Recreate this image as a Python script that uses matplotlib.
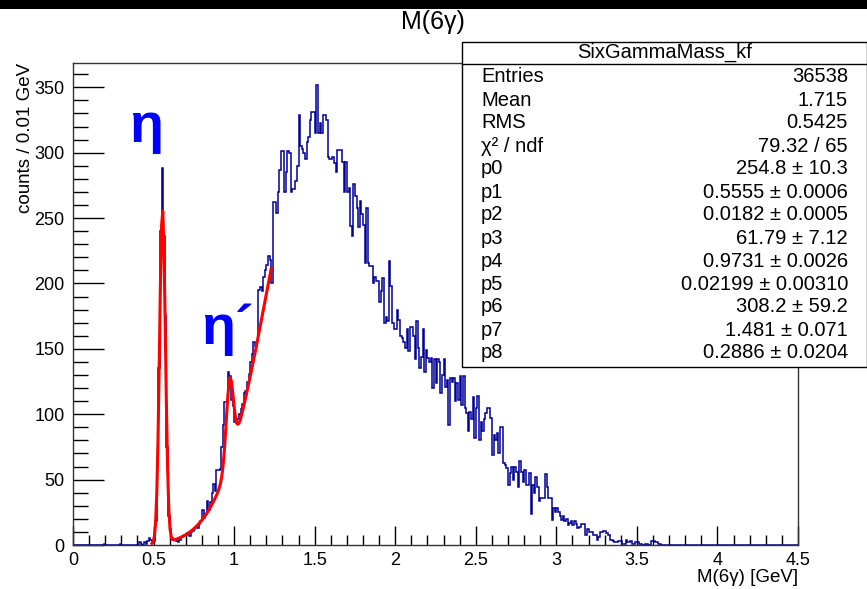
import numpy as np
import matplotlib
matplotlib.use("Agg")
import matplotlib.pyplot as plt
from matplotlib.patches import Rectangle
from matplotlib.lines import Line2D
from matplotlib.ticker import MultipleLocator

plt.rcParams['font.family'] = ['Liberation Sans', 'DejaVu Sans']

# histogram: bin width 0.01 GeV, contents, starting at 0.40 GeV
hist_start = 0.40
bin_width = 0.01
counts = [
    0, 2, 1, 0, 2, 1, 3, 5, 4, 3,                                # 0.40
    3, 18, 60, 135, 240, 288, 236, 176, 75, 22,                  # 0.50
    12, 5, 4, 4, 3, 2, 4, 6, 7, 8,                               # 0.60
    8, 9, 7, 10, 11, 12, 14, 13, 16, 18,                         # 0.70
    27, 21, 24, 34, 27, 33, 40, 47, 41, 57,                      # 0.80
    57, 58, 75, 92, 109, 109, 132, 129, 111, 106,                # 0.90
    94, 93, 96, 100, 104, 108, 116, 118, 125, 131,               # 1.00
    140, 146, 155, 152, 156, 195, 197, 194, 205, 210,            # 1.10
    214, 221, 218, 200, 262, 262, 254, 270, 287, 301,            # 1.20
    301, 270, 285, 301, 300, 270, 272, 272, 278, 290,            # 1.30
    329, 305, 303, 300, 295, 308, 312, 325, 331, 331,            # 1.40
    315, 352, 315, 323, 315, 329, 329, 325, 297, 295,            # 1.50
    295, 297, 292, 285, 302, 302, 302, 293, 270, 293,            # 1.60
    270, 273, 244, 236, 276, 267, 258, 243, 263, 253,            # 1.70
    245, 216, 258, 216, 213, 213, 200, 205, 202, 202,            # 1.80
    186, 194, 204, 170, 174, 171, 217, 198, 170, 165,            # 1.90
    165, 180, 172, 160, 158, 155, 151, 165, 148, 167,            # 2.00
    167, 160, 142, 171, 151, 135, 144, 165, 132, 149,            # 2.10
    143, 140, 143, 120, 142, 124, 142, 140, 116, 130,            # 2.20
    142, 121, 126, 92, 128, 125, 128, 110, 124, 111,             # 2.30
    129, 107, 129, 105, 101, 87, 102, 96, 113, 82,               # 2.40
    105, 114, 80, 94, 87, 96, 101, 105, 105, 97,                 # 2.50
    69, 84, 80, 86, 70, 90, 90, 63, 61, 59,                      # 2.60
    46, 55, 60, 50, 60, 56, 44, 64, 56, 48,                      # 2.70
    57, 46, 46, 55, 24, 46, 40, 52, 44, 34,                      # 2.80
    36, 36, 36, 54, 44, 36, 36, 19, 28, 25,                      # 2.90
    28, 25, 22, 19, 22, 18, 20, 15, 17, 18,                      # 3.00
    15, 18, 16, 13, 14, 16, 16, 16, 8, 12,                       # 3.10
    10, 10, 10, 8, 8, 4, 6, 10, 10, 11,                          # 3.20
    11, 9, 8, 4, 4, 3, 2, 2, 3, 3,                               # 3.30
    3, 1, 1, 4, 2, 2, 3, 1, 1, 2,                                # 3.40
    2, 1, 1, 0, 0, 1, 1, 0, 0, 3,                                # 3.50
    3, 2, 2, 1, 1,                                               # 3.60
]
stray_bins = {0.19: 1, 0.29: 1}

# fit: gaus(p0,p1,p2) + gaus(p3,p4,p5) + gaus(p6,p7,p8)
fit_par = [254.8, 0.5555, 0.0182, 61.79, 0.9731, 0.02199, 308.2, 1.481, 0.2886]
fit_range = (0.49, 1.23)

stats_title = "SixGammaMass_kf"
stats_names = ["Entries", "Mean", "RMS", "χ² / ndf", "p0", "p1", "p2", "p3",
               "p4", "p5", "p6", "p7", "p8"]
stats_values = ["36538", "1.715", "0.5425", "79.32 / 65",
                "254.8 ± 10.3", "0.5555 ± 0.0006", "0.0182 ± 0.0005",
                "61.79 ± 7.12", "0.9731 ± 0.0026", "0.02199 ± 0.00310",
                "308.2 ± 59.2", "1.481 ± 0.071", "0.2886 ± 0.0204"]

W, H = 867, 589
fig = plt.figure(figsize=(W / 100, H / 100), dpi=100)
ax = fig.add_axes([73 / W, 1 - 545 / H, (798 - 73) / W, (545 - 63) / H])

nbins = 450
full = np.zeros(nbins)
i0 = int(round(hist_start / bin_width))
full[i0:i0 + len(counts)] = counts
for x, c in stray_bins.items():
    full[int(round(x / bin_width))] = c
edges = np.linspace(0, 4.5, nbins + 1)
ax.stairs(full, edges, color='#000099', lw=1.1, zorder=2)

xf = np.linspace(fit_range[0], fit_range[1], 100)
p = fit_par
yf = (p[0] * np.exp(-0.5 * ((xf - p[1]) / p[2]) ** 2)
      + p[3] * np.exp(-0.5 * ((xf - p[4]) / p[5]) ** 2)
      + p[6] * np.exp(-0.5 * ((xf - p[7]) / p[8]) ** 2))
ax.plot(xf, yf, color='red', lw=2.2, zorder=3)

ax.set_xlim(0, 4.5)
ax.set_ylim(0, 368.6)
ax.xaxis.set_major_locator(MultipleLocator(0.5))
ax.xaxis.set_minor_locator(MultipleLocator(0.1))
ax.yaxis.set_major_locator(MultipleLocator(50))
ax.yaxis.set_minor_locator(MultipleLocator(10))
ax.set_xticks(np.arange(0, 4.51, 0.5))
ax.set_xticklabels(["0", "0.5", "1", "1.5", "2", "2.5", "3", "3.5", "4", "4.5"])
ax.tick_params(axis='x', which='major', direction='in', length=14, width=1,
               labelsize=13, pad=5, colors='black')
ax.tick_params(axis='x', which='minor', direction='in', length=7, width=1)
ax.tick_params(axis='y', which='major', direction='in', length=22, width=1,
               labelsize=13, pad=6)
ax.tick_params(axis='y', which='minor', direction='in', length=11, width=1)
for s in ax.spines.values():
    s.set_linewidth(1.0)
    s.set_color('#333333')
    s.set_zorder(4)

# greek labels
ax.text(0.35, 308, "η", color='#0000ff', fontsize=40, fontweight='bold',
        ha='left', va='baseline')
ax.text(0.795, 154, "η´", color='#0000ff', fontsize=40, fontweight='bold',
        ha='left', va='baseline')

# axis titles and main title
fig.text(433 / W, 1 - 22 / H, "M(6γ)", ha='center', va='center', fontsize=18)
fig.text(26 / W, 1 - 63 / H, "counts / 0.01 GeV", rotation=90, ha='center',
         va='top', fontsize=13.5)
fig.text(798 / W, 1 - 578 / H, "M(6γ) [GeV]", ha='right', va='center',
         fontsize=13.5)

# stats box
bx0, bx1, by0, by1 = 462, 866.5, 42, 367
fig.add_artist(Rectangle((bx0 / W, 1 - by1 / H), (bx1 - bx0) / W, (by1 - by0) / H,
                         transform=fig.transFigure, facecolor='white',
                         edgecolor='black', lw=1.0, zorder=5))
fig.add_artist(Line2D([bx0 / W, bx1 / W], [1 - 63.5 / H, 1 - 63.5 / H],
                      transform=fig.transFigure, color='black', lw=1.0, zorder=6))
fig.text(665 / W, 1 - 52 / H, stats_title, ha='center', va='center',
         fontsize=14.5, zorder=7)
for k, (nm, val) in enumerate(zip(stats_names, stats_values)):
    yy = 1 - (77 + 23 * k) / H
    fig.text(481 / W, yy, nm, ha='left', va='center', fontsize=14.5, zorder=7)
    fig.text(848 / W, yy, val, ha='right', va='center', fontsize=14.5, zorder=7)

# black strip at the top of the screenshot
fig.add_artist(Rectangle((0, 1 - 9 / H), 1, 9 / H, transform=fig.transFigure,
                         facecolor='black', edgecolor='none', zorder=8))

fig.savefig("out.png", dpi=100)
